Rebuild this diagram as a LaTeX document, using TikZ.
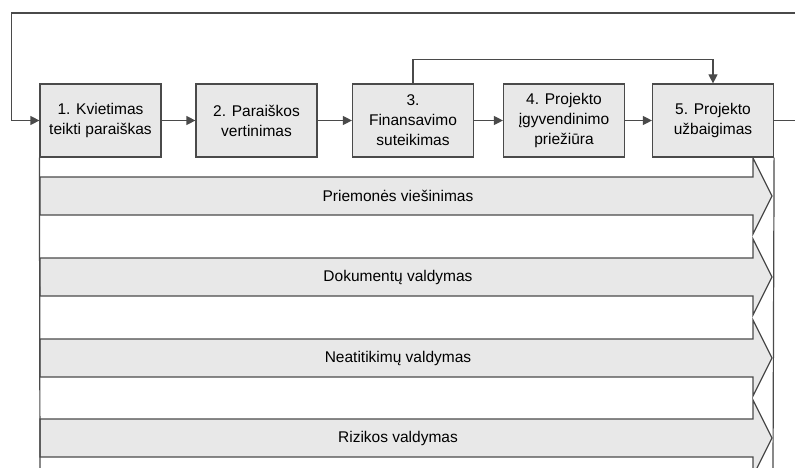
\documentclass[tikz,border=0pt]{standalone}
\usepackage{fontspec}
\setmainfont{Liberation Sans}
\usepackage{tikz}
\usetikzlibrary{arrows.meta}
\usepackage{xcolor}
\definecolor{boxfill}{HTML}{E8E8E8}
\definecolor{linegray}{HTML}{4A4A4A}

\begin{document}
\begin{tikzpicture}[x=1pt, y=-1pt,
	stage/.style={draw=linegray, fill=boxfill, line width=1.2pt, minimum width=121pt, minimum height=73pt, align=center, inner sep=1pt, font=\fontsize{15.5}{20}\selectfont},
	band/.style={draw=linegray, fill=boxfill, line width=1.2pt},
	flow/.style={draw=linegray, line width=1.2pt, -{Triangle[length=9pt,width=9pt]}},
	rail/.style={draw=linegray, line width=1.2pt}]
	\useasboundingbox (0,0) rectangle (795,468);
	% lanes under the process
	\foreach \y/\t [count=\i] in {196/Priemonės viešinimas, 277/Dokumentų valdymas, 358/Neatitikimų valdymas, 438/Rizikos valdymas} {
		\draw[band] (40,\y-19) -- (753,\y-19) -- (753,\y-38) -- (772,\y) -- (753,\y+38) -- (753,\y+19) -- (40,\y+19) -- cycle;
		\node[font=\fontsize{15.5}{18}\selectfont] (lane\i) at (398,\y) {\t};
	}
	\node[stage] (k1) at (100.5,120.5) {1. Kvietimas\\teikti paraiškas};
	\node[stage] (k2) at (256.5,120.5) {2. Paraiškos\\vertinimas};
	\node[stage] (k3) at (413,120.5) {3.\\Finansavimo\\suteikimas};
	\node[stage] (k4) at (564,120.5) {4. Projekto\\įgyvendinimo\\priežiūra};
	\node[stage] (k5) at (713,120.5) {5. Projekto\\užbaigimas};
	\coordinate (outR) at (795,120.5);
	\coordinate (inR) at (795,13);
	\coordinate (downL) at (40,468);
	\coordinate (downR) at (773,468);
	\draw[flow] (k1) -- (k2);
	\draw[flow] (k2) -- (k3);
	\draw[flow] (k3) -- (k4);
	\draw[flow] (k4) -- (k5);
	\draw[flow] (k3.north) -- ++(0,-24) -| (k5.north);
	\draw[rail] (k5.east) -- (outR);
	\draw[flow] (inR) -| ([xshift=-28pt]k1.west) -- (k1.west);
	\draw[rail] (k1.south west) -- (downL);
	\draw[rail] (k5.south east) -- (downR);
\end{tikzpicture}
\end{document}
